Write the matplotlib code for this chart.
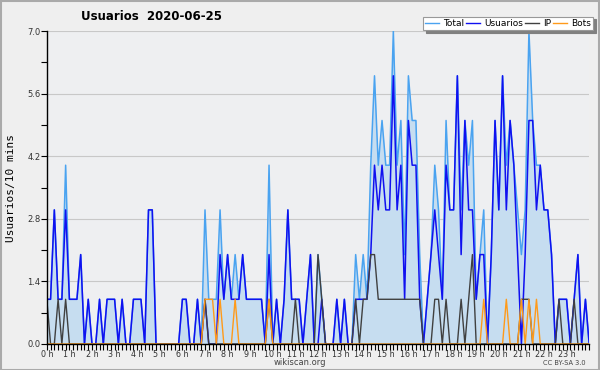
import numpy as np
import matplotlib
matplotlib.use('Agg')
import matplotlib.pyplot as plt
from matplotlib.patches import Rectangle
from matplotlib.lines import Line2D

# 10 minute bins over the day (hours)
hours = np.arange(145) / 6.0

total = [1,1,3,1,1,4,1,1,1,2, 0,1,0,0,1,0,1,1,1,0, 1,0,0,1,1,1,0,3,3,0,
         0,0,0,0,0,0,1,1,0,0, 1,0,3,1,1,1,3,1,2,1, 2,1,2,1,1,1,1,1,0,4,
         0,1,0,1,3,1,1,1,0,1, 2,0,2,1,0,0,0,1,0,1, 0,0,2,1,2,1,4,6,4,5,
         4,4,7,4,5,2,6,5,5,2, 0,1,2,4,3,1,5,3,3,6, 3,5,4,5,1,2,3,0,2,5,
         3,6,4,5,4,3,2,3,7,5, 4,4,3,3,2,0,1,1,1,0, 1,2,0,1,0]
usuarios = [1,1,3,1,1,3,1,1,1,2, 0,1,0,0,1,0,1,1,1,0, 1,0,0,1,1,1,0,3,3,0,
            0,0,0,0,0,0,1,1,0,0, 1,0,1,0,0,0,2,1,2,1, 1,1,2,1,1,1,1,1,0,2,
            0,1,0,1,3,1,1,1,0,1, 2,0,0,1,0,0,0,1,0,1, 0,0,1,1,1,1,2,4,3,4,
            3,3,6,3,4,1,5,4,4,1, 0,1,2,3,2,1,4,3,3,6, 2,5,3,3,1,2,2,0,2,5,
            3,6,3,5,4,2,0,2,5,5, 3,4,3,3,2,0,1,1,1,0, 1,2,0,1,0]
ip = [1,0,0,1,0,1,0,0,0,0, 0,0,0,0,0,0,0,0,0,0, 0,0,0,0,0,0,0,0,0,0,
      0,0,0,0,0,0,0,0,0,0, 0,0,1,0,0,0,0,0,0,0, 0,0,0,0,0,0,0,0,0,1,
      0,0,0,0,0,0,1,0,0,0, 0,0,2,1,0,0,0,0,0,0, 0,0,1,0,1,1,2,2,1,1,
      1,1,1,1,1,1,1,1,1,1, 0,0,0,1,1,0,1,0,0,0, 1,0,1,2,0,0,0,0,0,0,
      0,0,0,0,0,0,1,1,1,0, 0,0,0,0,0,0,1,0,0,0, 1,0,0,0,0]
bots = [0,0,0,0,0,0,0,0,0,0, 0,0,0,0,0,0,0,0,0,0, 0,0,0,0,0,0,0,0,0,0,
        0,0,0,0,0,0,0,0,0,0, 0,0,1,1,1,0,1,0,0,0, 1,0,0,0,0,0,0,0,0,1,
        0,0,0,0,0,0,0,0,0,0, 0,0,0,0,0,0,0,0,0,0, 0,0,0,0,0,0,0,0,0,0,
        0,0,0,0,0,0,0,0,0,0, 0,0,0,0,0,0,0,0,0,0, 0,0,0,0,0,0,1,0,0,0,
        0,0,1,0,0,0,1,0,1,0, 1,0,0,0,0,0,0,0,0,0, 0,0,0,0,0]

hour_labels = ['%d h' % h for h in range(24)]
yticks = [0.0, 1.4, 2.8, 4.2, 5.6, 7.0]

c_total = '#4aa3f0'
c_fill = '#c6ddf0'
c_user = '#1010f0'
c_ip = '#404040'
c_bots = '#ff9a1a'

fig = plt.figure(figsize=(6, 3.7), dpi=100, facecolor='#efefef')
ax = fig.add_axes([0.078, 0.0703, 0.904, 0.8457])
ax.set_facecolor('#eeeff1')

ax.fill_between(hours, total, 0, color=c_fill, lw=0)
ax.plot(hours, total, color=c_total, lw=1.1)
ax.plot(hours, usuarios, color=c_user, lw=1.1)
ax.plot(hours, ip, color=c_ip, lw=1.0)
ax.plot(hours, bots, color=c_bots, lw=1.0)

ax.set_xlim(0, 24)
ax.set_ylim(0, 7)
ax.set_yticks(yticks)
ax.set_yticklabels(['%.1f' % v for v in yticks], fontsize=6, color='#333333')
ax.set_yticks(np.arange(0, 7.01, 0.7), minor=True)
ax.set_xticks(range(24))
ax.set_xticklabels(hour_labels, fontsize=5.8, color='#333333')
ax.set_xticks(np.arange(0, 24.01, 1 / 6.0), minor=True)
ax.tick_params(axis='both', which='both', direction='out', length=4, width=0.8, pad=0.5)
ax.grid(axis='y', which='major', color='#c8c8c8', lw=0.8)
ax.set_axisbelow(True)
for s in ['top', 'right']:
    ax.spines[s].set_visible(False)
ax.spines['left'].set_linewidth(1.0)
ax.spines['bottom'].set_linewidth(1.0)

ax.set_ylabel('Usuarios/10 mins', family='DejaVu Sans Mono', fontsize=8, labelpad=8)

fig.text(0.252, 0.955, 'Usuarios  2020-06-25', fontsize=8.5, fontweight='bold', ha='center', va='center')
fig.text(0.5, 0.02, 'wikiscan.org', fontsize=6, color='#444444', ha='center', va='center')
fig.text(0.94, 0.02, 'CC BY-SA 3.0', fontsize=4.8, color='#444444', ha='center', va='center')

handles = [Line2D([], [], color=c_total, lw=1), Line2D([], [], color=c_user, lw=1),
           Line2D([], [], color=c_ip, lw=1), Line2D([], [], color=c_bots, lw=1)]
leg = fig.legend(handles, ['Total', 'Usuarios', 'IP', 'Bots'], loc='upper right',
                 bbox_to_anchor=(0.988, 0.955), ncol=4, fontsize=6.5, frameon=True,
                 fancybox=False, shadow={'color': '#808080', 'alpha': 1.0}, handlelength=1.6,
                 handletextpad=0.4, columnspacing=0.2, borderpad=0.25, borderaxespad=0)
leg.get_frame().set_edgecolor('#999999')
leg.get_frame().set_linewidth(0.8)

fig.add_artist(Rectangle((0.001, 0.001), 0.997, 0.997, transform=fig.transFigure,
                         fill=False, edgecolor='#aaaaaa', lw=1.5))

fig.savefig('out.png', dpi=100, facecolor=fig.get_facecolor())
